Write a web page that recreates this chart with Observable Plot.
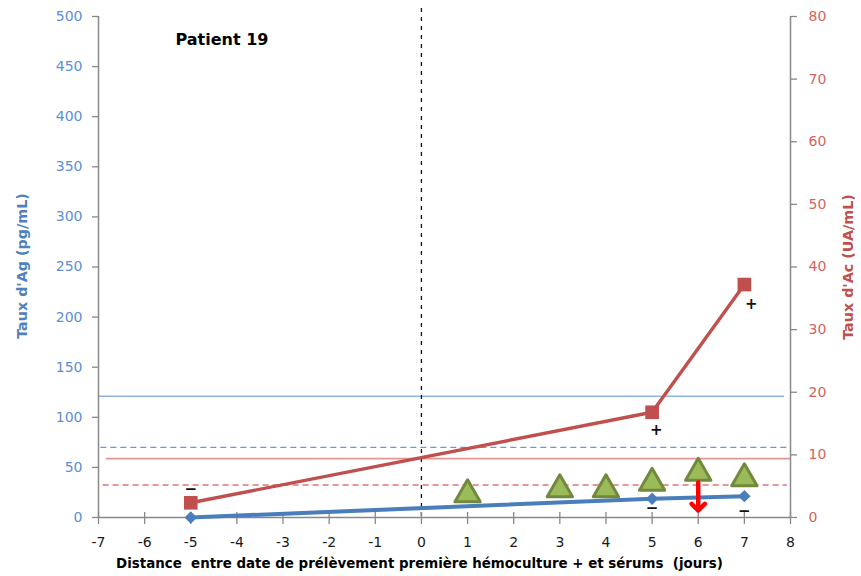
<!DOCTYPE html>
<html>
<head>
<meta charset="utf-8">
<script src="https://cdn.jsdelivr.net/npm/d3@7"></script>
<script src="https://cdn.jsdelivr.net/npm/@observablehq/plot@0.6"></script>
<style>
  html, body { margin: 0; padding: 0; background: #fff; }
</style>
</head>
<body>
<div id="chart"></div>
<script>
// ---- data ----
const agDays = [-5, 5, 7];
const agValues = [0, 18.7, 21.3];            // Taux d'Ag (pg/mL), left axis
const acDays = [-5, 5, 7];
const acValues = [2.35, 16.8, 37.2];         // Taux d'Ac (UA/mL), right axis
const triDays = [1, 3, 4, 5, 6, 7];
const triValues = [23, 28, 28, 34.5, 44.5, 39]; // green triangles (left-axis units)
const arrowDay = [6];
const arrowFrom = [35];
const arrowTo = [7];
const agThresholdSolid = 121;
const agThresholdDashed = 70;
const acThresholdSolid = 9.4;
const acThresholdDashed = 5.2;
const xTicks = d3.range(-7, 9);
const leftTicks = d3.range(0, 501, 50);
const rightTicks = d3.range(0, 81, 10);
const signLabels = ["−", "+", "+", "−", "−"];
const signDays = [-5, 5.09, 7.15, 5.0, 7.0];
const signValues = [28, 87, 212.6, 9, 6.3];

const K = 500 / 80; // right axis -> left axis units

const agData = agDays.map((d, i) => ({x: d, y: agValues[i]}));
const acData = acDays.map((d, i) => ({x: d, y: acValues[i] * K}));
const triData = triDays.map((d, i) => ({x: d, y: triValues[i]}));
const arrowData = arrowDay.map((d, i) => ({x: d, y1: arrowFrom[i], y2: arrowTo[i]}));
const signData = signLabels.map((t, i) => ({t, x: signDays[i], y: signValues[i]}));

const FONT = "DejaVu Sans";
const AXIS = "#898989";

const chart = Plot.plot({
  width: 861,
  height: 576,
  marginLeft: 98,
  marginRight: 71,
  marginTop: 16,
  marginBottom: 59,
  style: {fontFamily: FONT, fontSize: "14px", background: "#fff"},
  x: {domain: [-7, 8]},
  y: {domain: [0, 500]},
  marks: [
    // threshold lines
    Plot.ruleY([agThresholdSolid], {x1: -7, x2: 7.87, stroke: "#8FB3E2", strokeWidth: 1.6}),
    Plot.ruleY([agThresholdDashed], {x1: -6.95, x2: 7.93, stroke: "#6A98D8", strokeWidth: 1.4, strokeDasharray: "6,4"}),
    Plot.ruleY([acThresholdSolid * K], {x1: -6.83, x2: 8, stroke: "#E29592", strokeWidth: 1.6}),
    Plot.ruleY([acThresholdDashed * K], {x1: -6.9, x2: 7.93, stroke: "#E07573", strokeWidth: 1.4, strokeDasharray: "6,4"}),
    // zero day dashed line
    Plot.ruleX([0], {y1: 508, y2: 0, stroke: "#111", strokeWidth: 1.3, strokeDasharray: "4,5"}),
    // axes lines
    Plot.ruleX([-7], {y1: 0, y2: 500, stroke: AXIS, strokeWidth: 1.5}),
    Plot.ruleX([8], {y1: 0, y2: 500, stroke: AXIS, strokeWidth: 1.5}),
    Plot.ruleY([0], {x1: -7, x2: 8, stroke: AXIS, strokeWidth: 1.5}),
    Plot.ruleX(xTicks, {y1: 0, y2: 5, stroke: AXIS, strokeWidth: 1.3}),
    Plot.axisX({ticks: xTicks, tickSize: 7, tickPadding: 13, stroke: AXIS, strokeWidth: 1.3, fill: "#1a1a1a", fontSize: 14, label: null, tickFormat: d => (d < 0 ? "-" + Math.abs(d) : String(d))}),
    Plot.axisY({ticks: leftTicks, anchor: "left", tickSize: 6, tickPadding: 10, stroke: AXIS, strokeWidth: 1.3, fill: "#5B8FD6", fontSize: 14, label: null}),
    Plot.axisY({ticks: rightTicks.map(v => v * K), anchor: "right", tickSize: 6, tickPadding: 12, stroke: AXIS, strokeWidth: 1.3, fill: "#D4635E", fontSize: 14, tickFormat: d => Math.round(d / K), label: null}),
    // series lines
    Plot.line(acData, {x: "x", y: "y", stroke: "#C0504D", strokeWidth: 3.4}),
    Plot.line(agData, {x: "x", y: "y", stroke: "#4A7EBB", strokeWidth: 4}),
    Plot.dot(acData, {x: "x", y: "y", symbol: "square", r: 7.7, fill: "#C0504D"}),
    Plot.dot(agData, {x: "x", y: "y", symbol: "diamond2", r: 5.6, fill: "#4A7EBB"}),
    // triangles
    Plot.dot(triData, {x: "x", y: "y", symbol: "triangle", r: 9.4, fill: "#9BBB59", stroke: "#71893F", strokeWidth: 3, strokeLinejoin: "round"}),
    // red arrow
    Plot.arrow(arrowData, {x1: "x", x2: "x", y1: "y1", y2: "y2", stroke: "#FF0000", strokeWidth: 4.5, headLength: 30, headAngle: 90}),
    // sign annotations
    Plot.text(signData, {x: "x", y: "y", text: "t", fill: "#111", fontSize: 15, fontWeight: "bold"}),
    // title
    Plot.text(["Patient 19"], {frameAnchor: "top-left", dx: 77, dy: 17, lineAnchor: "top", textAnchor: "start", text: d => d, fontSize: 16, fontWeight: "bold", fill: "#000"}),
    // axis titles
    Plot.text(["Taux d'Ag (pg/mL)"], {frameAnchor: "left", textAnchor: "middle", lineAnchor: "middle", dx: -76, dy: -1, rotate: -90, text: d => d, fontSize: 14.3, fontWeight: "bold", fill: "#4F81BD"}),
    Plot.text(["Taux d'Ac (UA/mL)"], {frameAnchor: "right", textAnchor: "middle", lineAnchor: "middle", dx: 58, dy: 0, rotate: -90, text: d => d, fontSize: 14.3, fontWeight: "bold", fill: "#C0504D"}),
    Plot.text(["Distance  entre date de prélèvement première hémoculture + et sérums  (jours)"], {frameAnchor: "bottom", textAnchor: "middle", lineAnchor: "middle", dx: -25, dy: 46, text: d => d, fontSize: 13.4, fontWeight: "bold", fill: "#000"})
  ]
});
document.getElementById("chart").appendChild(chart);
</script>
</body>
</html>
